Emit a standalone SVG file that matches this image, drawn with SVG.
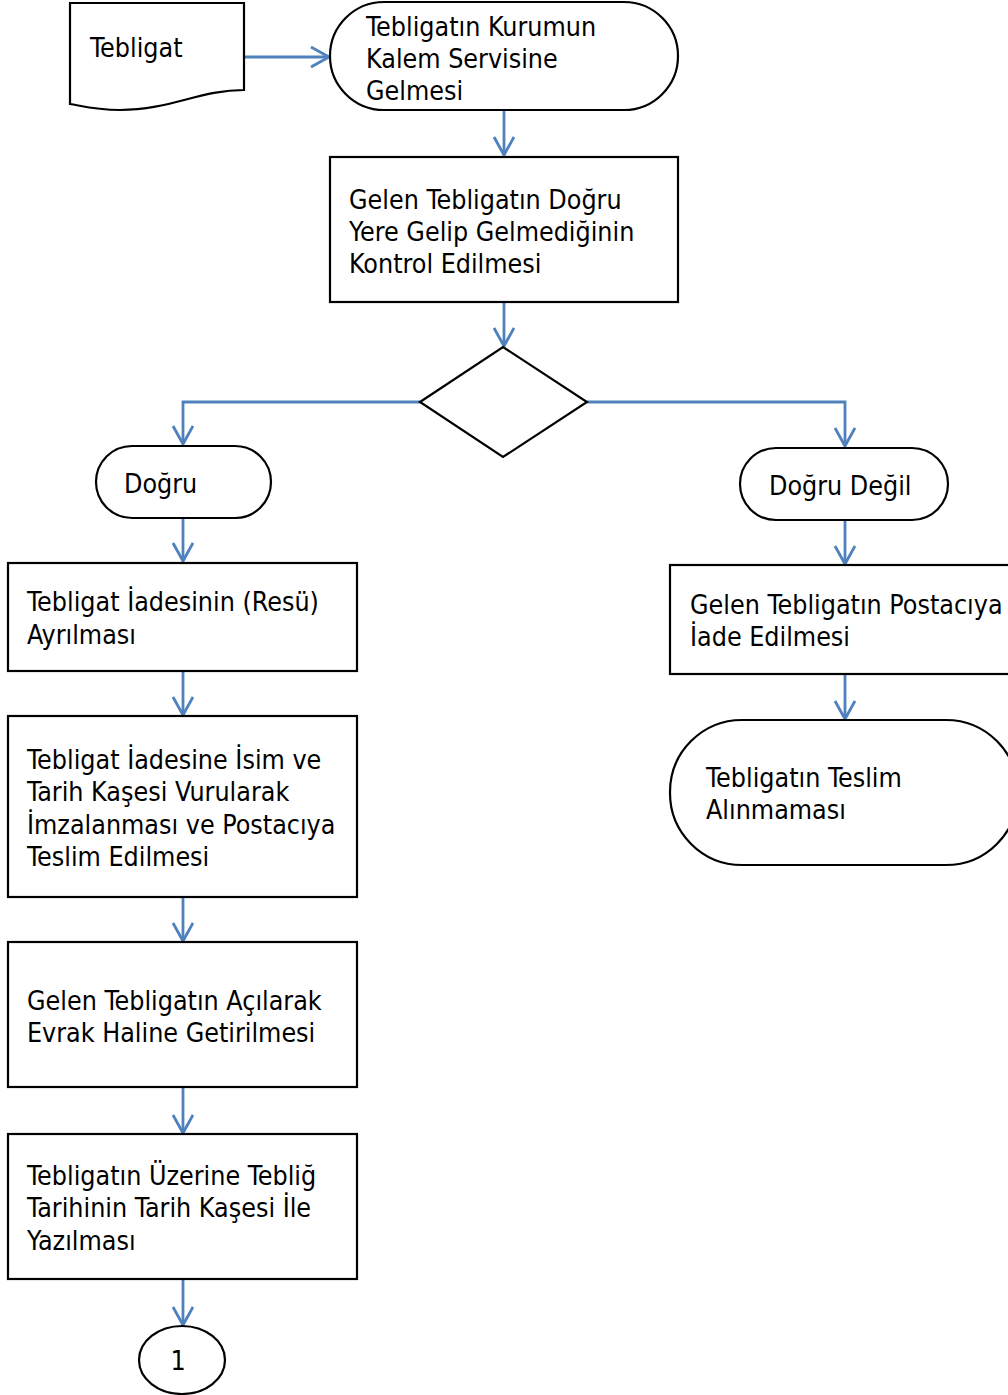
<svg xmlns="http://www.w3.org/2000/svg" width="1008" height="1395" viewBox="0 0 1008 1395">
<defs>
<style>
.s{fill:#fff;stroke:#000;stroke-width:2.2}
.c{fill:none;stroke:#4F81BD;stroke-width:2.8}
text{font-family:"DejaVu Sans Condensed","DejaVu Sans",Verdana,sans-serif;font-size:26.6px;fill:#000}
</style>
<marker id="a" markerWidth="24" markerHeight="24" refX="19" refY="11" orient="auto" markerUnits="userSpaceOnUse">
<path d="M1,1 L19,11 L1,21" fill="none" stroke="#4F81BD" stroke-width="2.8"/>
</marker>
</defs>
<rect width="1008" height="1395" fill="#fff"/>
<g id="connectors">
<path class="c" d="M244,57 H329" marker-end="url(#a)"/>
<path class="c" d="M504,110 V155" marker-end="url(#a)"/>
<path class="c" d="M504,302 V346" marker-end="url(#a)"/>
<path class="c" d="M420,402 H183 V444" marker-end="url(#a)"/>
<path class="c" d="M587,402 H845 V446" marker-end="url(#a)"/>
<path class="c" d="M183,518 V561" marker-end="url(#a)"/>
<path class="c" d="M183,671 V715" marker-end="url(#a)"/>
<path class="c" d="M183,897 V941" marker-end="url(#a)"/>
<path class="c" d="M183,1087 V1133" marker-end="url(#a)"/>
<path class="c" d="M183,1279 V1325" marker-end="url(#a)"/>
<path class="c" d="M845,520 V564" marker-end="url(#a)"/>
<path class="c" d="M845,674 V719" marker-end="url(#a)"/>
</g>
<g id="tebligat">
<path class="s" d="M70,3 H244 V90 C200,90 170,110 120,110 C95,110 82,106 70,104 Z"/>
<text x="90" y="57">Tebligat</text>
</g>
<g id="kalem">
<rect class="s" x="330" y="2" width="348" height="108" rx="54"/>
<text x="366" y="36">Tebligatın Kurumun</text>
<text x="366" y="68">Kalem Servisine</text>
<text x="366" y="100">Gelmesi</text>
</g>
<g id="kontrol">
<rect class="s" x="330" y="157" width="348" height="145"/>
<text x="349" y="209">Gelen Tebligatın Doğru</text>
<text x="349" y="241">Yere Gelip Gelmediğinin</text>
<text x="349" y="273">Kontrol Edilmesi</text>
</g>
<g id="karar">
<path class="s" d="M420,402 L503,347 L587,402 L503,457 Z"/>
</g>
<g id="dogru">
<rect class="s" x="96" y="446" width="175" height="72" rx="36"/>
<text x="124" y="493">Doğru</text>
</g>
<g id="dogrudegil">
<rect class="s" x="740" y="448" width="208" height="72" rx="36"/>
<text x="769" y="495">Doğru Değil</text>
</g>
<g id="resu">
<rect class="s" x="8" y="563" width="349" height="108"/>
<text x="27" y="611">Tebligat İadesinin (Resü)</text>
<text x="27" y="644">Ayrılması</text>
</g>
<g id="kase">
<rect class="s" x="8" y="716" width="349" height="181"/>
<text x="27" y="769">Tebligat İadesine İsim ve</text>
<text x="27" y="801">Tarih Kaşesi Vurularak</text>
<text x="27" y="834">İmzalanması ve Postacıya</text>
<text x="27" y="866">Teslim Edilmesi</text>
</g>
<g id="evrak">
<rect class="s" x="8" y="942" width="349" height="145"/>
<text x="27" y="1010">Gelen Tebligatın Açılarak</text>
<text x="27" y="1042">Evrak Haline Getirilmesi</text>
</g>
<g id="teblig">
<rect class="s" x="8" y="1134" width="349" height="145"/>
<text x="27" y="1185">Tebligatın Üzerine Tebliğ</text>
<text x="27" y="1217">Tarihinin Tarih Kaşesi İle</text>
<text x="27" y="1250">Yazılması</text>
</g>
<g id="bir">
<ellipse class="s" cx="182" cy="1360" rx="43" ry="34"/>
<text x="178" y="1370" text-anchor="middle">1</text>
</g>
<g id="iade">
<rect class="s" x="670" y="565" width="348" height="109"/>
<text x="690" y="614">Gelen Tebligatın Postacıya</text>
<text x="690" y="646">İade Edilmesi</text>
</g>
<g id="teslimalinmamasi">
<rect class="s" x="670" y="720" width="348" height="145" rx="72"/>
<text x="706" y="787">Tebligatın Teslim</text>
<text x="706" y="819">Alınmaması</text>
</g>
</svg>
